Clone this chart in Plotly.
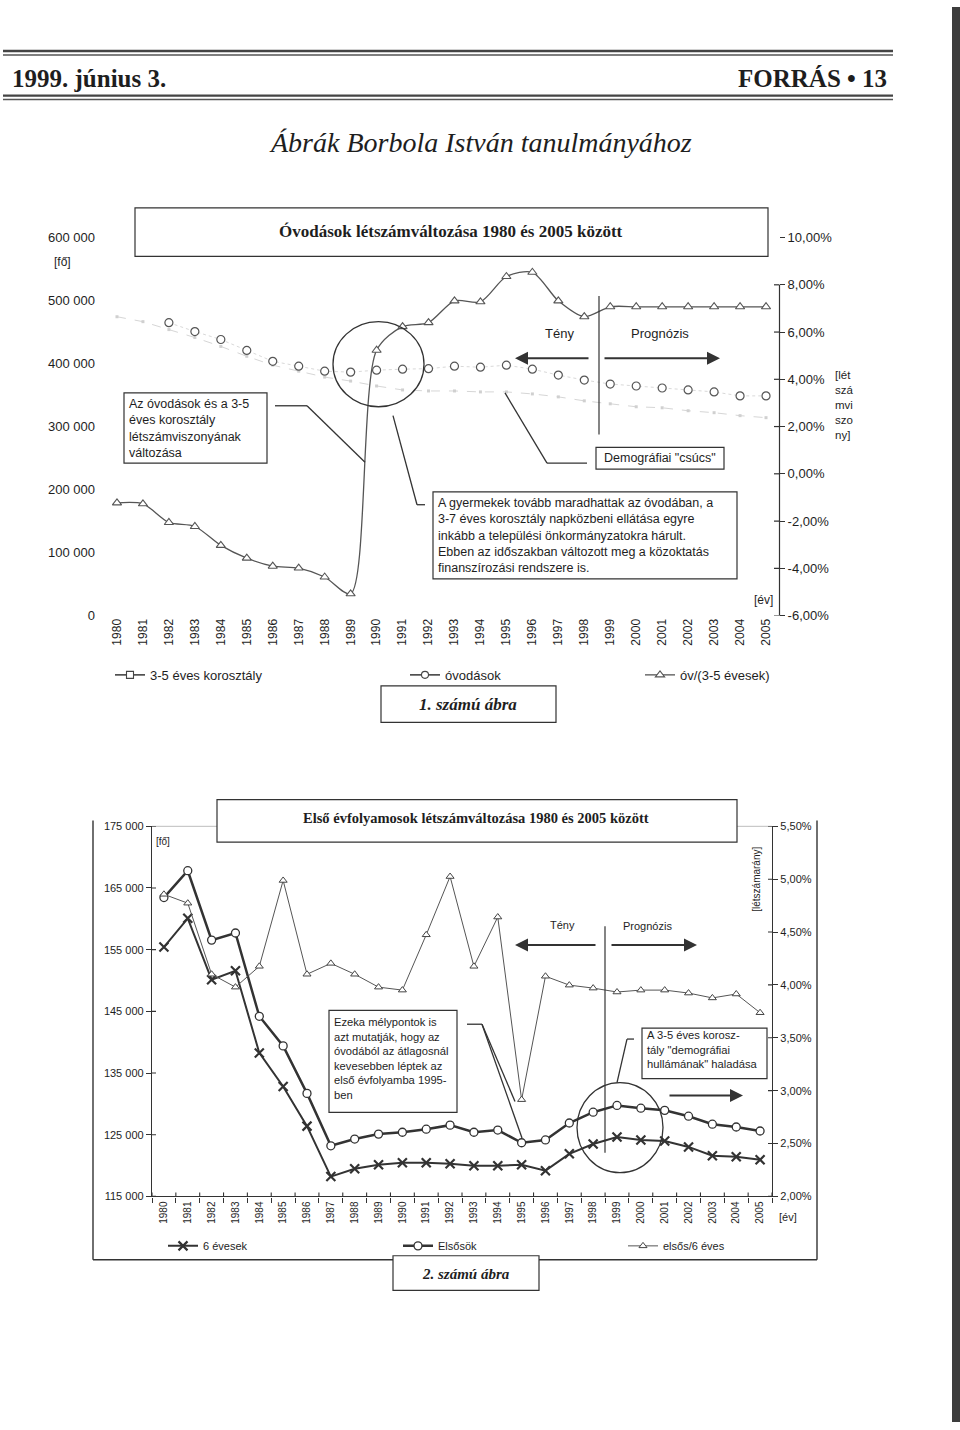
import plotly.graph_objects as go

# ---------------- DATA ----------------
years = [str(y) for y in range(1980, 2006)]

# Chart 1: Óvodások létszámváltozása
korosztaly_3_5 = [474300, 466500, 453900, 441300, 427200, 411500, 397400, 387900, 378500, 372200,
                  364400, 358100, 356500, 356500, 355000, 355000, 351800, 347100, 340800, 336100,
                  331400, 329800, 325100, 322000, 317300, 314100]
ovodasok = [None, None, 464900, 450800, 438200, 420900, 403600, 395800, 387900, 386400,
            389500, 391100, 391900, 395800, 394200, 397400, 391100, 381700, 373800, 367500,
            364400, 361200, 358100, 355000, 348700, 348700]
ov_per_3_5 = [-1.23, -1.27, -2.06, -2.23, -3.03, -3.57, -3.91, -3.99, -4.37, -5.08,
              5.23, 6.23, 6.40, 7.32, 7.28, 8.35, 8.53, 7.32, 6.65, 7.07,
              7.07, 7.07, 7.07, 7.07, 7.07, 7.07]
top_left_ticks = [0, 100000, 200000, 300000, 400000, 500000, 600000]
top_left_labels = ["0", "100 000", "200 000", "300 000", "400 000", "500 000", "600 000"]
top_right_ticks = [-6, -4, -2, 0, 2, 4, 6, 8, 10]
top_right_labels = ["-6,00%", "-4,00%", "-2,00%", "0,00%", "2,00%", "4,00%", "6,00%", "8,00%", "10,00%"]

# Chart 2: Első évfolyamosok létszámváltozása
hat_evesek = [155430, 160080, 150130, 151580, 138260, 132810, 126390, 118210, 119490, 120130,
              120450, 120450, 120290, 119970, 119970, 120130, 119170, 121900, 123500, 124630,
              124140, 123980, 123020, 121580, 121420, 120940]
elsosok = [163450, 167800, 156550, 157700, 144200, 139400, 131700, 123200, 124300, 125100,
           125400, 125900, 126550, 125400, 125750, 123700, 124150, 126900, 128650, 129750,
           129300, 128950, 128000, 126700, 126250, 125600]
elsos_per_6 = [4.857, 4.773, 4.101, 3.979, 4.176, 4.988, 4.101, 4.204, 4.101, 3.979,
               3.951, 4.474, 5.025, 4.176, 4.642, 2.915, 4.082, 3.998, 3.970, 3.933,
               3.951, 3.951, 3.923, 3.877, 3.914, 3.737]
bot_left_ticks = [115000, 125000, 135000, 145000, 155000, 165000, 175000]
bot_left_labels = ["115 000", "125 000", "135 000", "145 000", "155 000", "165 000", "175 000"]
bot_right_ticks = [2.0, 2.5, 3.0, 3.5, 4.0, 4.5, 5.0, 5.5]
bot_right_labels = ["2,00%", "2,50%", "3,00%", "3,50%", "4,00%", "4,50%", "5,00%", "5,50%"]

# ---------------- HELPERS ----------------
W, H = 960, 1430
def X(p): return p / W
def Y(p): return 1 - p / H

SANS = "Liberation Sans, Arial, sans-serif"
SERIF = "Liberation Serif, Times New Roman, serif"
INK = "#1e1e1e"

fig = go.Figure()

# ---- Chart 1 traces ----
fig.add_trace(go.Scatter(x=years, y=korosztaly_3_5, xaxis="x", yaxis="y", mode="lines+markers",
                         line=dict(color="#d6d6d6", width=1, dash="dash"),
                         marker=dict(symbol="square", size=3, color="#d0d0d0"),
                         showlegend=False, hoverinfo="skip"))
fig.add_trace(go.Scatter(x=years, y=ovodasok, xaxis="x", yaxis="y", mode="lines+markers",
                         line=dict(color="#d9d9d9", width=1, dash="dot"),
                         marker=dict(symbol="circle", size=8, color="white",
                                     line=dict(color="#555", width=1.2)),
                         showlegend=False, hoverinfo="skip"))
fig.add_trace(go.Scatter(x=years, y=ov_per_3_5, xaxis="x", yaxis="y2", mode="lines+markers",
                         name="óv/(3-5 évesek)", legend="legend3",
                         line=dict(color="#555", width=1.3, shape="spline", smoothing=0.8),
                         marker=dict(symbol="triangle-up", size=8, color="white",
                                     line=dict(color="#555", width=1.1))))
# legend entries for the faint series
fig.add_trace(go.Scatter(x=[None], y=[None], xaxis="x", yaxis="y", mode="lines+markers",
                         name="3-5 éves korosztály", legend="legend",
                         line=dict(color="#444", width=1.6),
                         marker=dict(symbol="square", size=7, color="white",
                                     line=dict(color="#444", width=1.1))))
fig.add_trace(go.Scatter(x=[None], y=[None], xaxis="x", yaxis="y", mode="lines+markers",
                         name="óvodások", legend="legend2",
                         line=dict(color="#444", width=1.6),
                         marker=dict(symbol="circle", size=7, color="white",
                                     line=dict(color="#444", width=1.1))))

# ---- Chart 2 traces ----
fig.add_trace(go.Scatter(x=years, y=hat_evesek, xaxis="x2", yaxis="y3", mode="lines+markers",
                         name="6 évesek", legend="legend4",
                         line=dict(color="#333", width=2),
                         marker=dict(symbol="x-thin", size=9, line=dict(color="#333", width=2.2))))
fig.add_trace(go.Scatter(x=years, y=elsosok, xaxis="x2", yaxis="y3", mode="lines+markers",
                         name="Elsősök", legend="legend5",
                         line=dict(color="#333", width=2.5),
                         marker=dict(symbol="circle", size=8, color="white",
                                     line=dict(color="#333", width=1.3))))
fig.add_trace(go.Scatter(x=years, y=elsos_per_6, xaxis="x2", yaxis="y4", mode="lines+markers",
                         name="elsős/6 éves", legend="legend6",
                         line=dict(color="#555", width=1),
                         marker=dict(symbol="triangle-up", size=7, color="white",
                                     line=dict(color="#444", width=1))))

# ---------------- SHAPES ----------------
shapes = []
def line(x0, y0, x1, y1, w=1.3, color="#333"):
    shapes.append(dict(type="line", xref="paper", yref="paper", x0=X(x0), y0=Y(y0), x1=X(x1), y1=Y(y1),
                       line=dict(color=color, width=w), layer="above"))

def rect(x0, y0, x1, y1, w=1.2):
    shapes.append(dict(type="rect", xref="paper", yref="paper", x0=X(x0), y0=Y(y0), x1=X(x1), y1=Y(y1),
                       line=dict(color="#333", width=w), fillcolor="white", layer="above"))

def ellipse(x0, y0, x1, y1):
    shapes.append(dict(type="circle", xref="paper", yref="paper", x0=X(x0), y0=Y(y0), x1=X(x1), y1=Y(y1),
                       line=dict(color="#333", width=1.3), layer="above"))

# page header rules
line(3, 44.5, 893, 44.5, w=2.4, color="#444")
line(3, 48.5, 893, 48.5, w=1.3, color="#555")
line(3, 89.5, 893, 89.5, w=2.2, color="#444")
line(3, 93.5, 893, 93.5, w=1.6, color="#555")
# scan edge
shapes.append(dict(type="rect", xref="paper", yref="paper", x0=X(952), x1=1, y0=0, y1=1,
                   line=dict(width=0), fillcolor="#3d3d3d", layer="above"))

# chart 1 decorations
line(779.5, 281, 779.5, 615, w=1.2)              # right axis line
for v in top_right_ticks:                         # inner half of crossing ticks
    if v <= 8:
        shapes.append(dict(type="line", xref="paper", yref="y2", x0=X(774), x1=X(779.5), y0=v, y1=v,
                           line=dict(color="#333", width=1.2), layer="above"))
line(599, 292, 599, 432, w=1.2)                  # Tény / Prognózis divider
line(275, 403, 307, 403); line(307, 403, 365, 460)
line(393, 413, 417, 503); line(417, 503, 425, 503)
line(505, 390, 547, 461); line(547, 461, 587, 461)
ellipse(333, 318, 424, 404)
rect(135, 203, 768, 252)
rect(124, 390, 267, 461)
rect(433, 490, 737, 578)
rect(596, 445, 724, 467)
rect(381, 686, 556, 723)

# chart 2 decorations
line(152, 828, 772, 828, w=1, color="#bdbdbd")   # faint top border
line(93, 822, 93, 1266, w=1.4); line(93, 1266, 817, 1266, w=1.4); line(817, 822, 817, 1266, w=1.4)
for v in bot_left_ticks:
    shapes.append(dict(type="line", xref="paper", yref="y3", x0=X(152), x1=X(156), y0=v, y1=v,
                       line=dict(color="#333", width=1.1), layer="above"))
for v in bot_right_ticks:
    shapes.append(dict(type="line", xref="paper", yref="y4", x0=X(768), x1=X(772), y0=v, y1=v,
                       line=dict(color="#333", width=1.1), layer="above"))
for i in range(len(years) + 1):
    shapes.append(dict(type="line", xref="x2", yref="paper", x0=i - 0.5, x1=i - 0.5, y0=Y(1202), y1=Y(1198),
                       line=dict(color="#333", width=1.1), layer="above"))
line(605, 929, 605, 1158, w=1.2)
line(467, 1028, 482, 1028); line(482, 1028, 515, 1106); line(482, 1028, 522, 1143)
line(634, 1043, 627, 1043); line(627, 1043, 617, 1087)
ellipse(577, 1087, 663, 1178)
rect(217, 801, 737, 844)
rect(329, 1014, 457, 1117)
rect(642, 1032, 767, 1083)
rect(393, 1262, 539, 1297)

# ---------------- ANNOTATIONS ----------------
ann = []
def txt(x, y, s, size=12.5, family=SANS, xa="center", ya="middle", align="left", color=INK, **kw):
    ann.append(dict(x=X(x), y=Y(y), xref="paper", yref="paper", text=s, showarrow=False,
                    xanchor=xa, yanchor=ya, align=align, font=dict(family=family, size=size, color=color), **kw))

def arrow(hx, hy, tx, ty):
    ann.append(dict(x=X(hx), y=Y(hy), xref="paper", yref="paper", text="", showarrow=True,
                    ax=tx - hx, ay=ty - hy, axref="pixel", ayref="pixel",
                    arrowhead=2, arrowsize=1.3, arrowwidth=2, arrowcolor="#333"))

txt(10, 72, "<b>1999. június 3.</b>", size=25, family=SERIF, xa="left")
txt(889, 72, "<b>FORRÁS • 13</b>", size=25, family=SERIF, xa="right")
txt(480, 137, "<i>Ábrák Borbola István tanulmányához</i>", size=28, family=SERIF)

txt(451, 227, "<b>Óvodások létszámváltozása 1980 és 2005 között</b>", size=17, family=SERIF)
txt(52, 258, "[fő]", size=12, xa="left")
txt(559, 330, "Tény", size=13)
txt(660, 330, "Prognózis", size=13)
txt(833, 402, "[lét<br>szá<br>mvi<br>szo<br>ny]", size=11.5, xa="left")
txt(127, 425.5, "Az óvodások és a 3-5<br>éves korosztály<br>létszámviszonyának<br>változása", size=12.5, xa="left")
txt(436, 534, "A gyermekek tovább maradhattak az óvodában, a<br>3-7 éves korosztály napközbeni ellátása egyre<br>"
    "inkább a települési önkormányzatokra hárult.<br>Ebben az időszakban változott meg a közoktatás<br>"
    "finanszírozási rendszere is.", size=12.5, xa="left")
txt(660, 456, "Demográfiai \"csúcs\"", size=12.5)
txt(763, 599, "[év]", size=12)
txt(468, 705, "<b><i>1. számú ábra</i></b>", size=17, family=SERIF)
arrow(515, 355, 590, 355)
arrow(720, 355, 603, 355)

txt(476, 820, "<b>Első évfolyamosok létszámváltozása 1980 és 2005 között</b>", size=14.5, family=SERIF)
txt(163, 843, "[fő]", size=10)
txt(757, 882, "[létszámarány]", size=10, textangle=-90)
txt(562, 928, "Tény", size=11)
txt(647, 929, "Prognózis", size=11)
txt(332, 1063, "Ezeka mélypontok is<br>azt mutatják, hogy az<br>óvodából az átlagosnál<br>kevesebben léptek az<br>"
    "első évfolyamba 1995-<br>ben", size=11.2, xa="left")
txt(645, 1054, "A 3-5 éves korosz-<br>tály \"demográfiai<br>hullámának\" haladása", size=11.2, xa="left")
txt(788, 1223, "[év]", size=11)
txt(466, 1280, "<b><i>2. számú ábra</i></b>", size=15, family=SERIF)
arrow(515, 948, 597, 948)
arrow(697, 948, 610, 948)
arrow(743, 1100, 668, 1100)

# ---------------- LAYOUT ----------------
def legend_at(x, y, size):
    return dict(x=X(x), y=Y(y), xanchor="left", yanchor="middle", orientation="h",
                bgcolor="rgba(0,0,0,0)", borderwidth=0, itemwidth=30,
                font=dict(family=SANS, size=size, color=INK))

fig.update_layout(
    width=W, height=H, autosize=False,
    margin=dict(l=0, r=0, t=0, b=0),
    paper_bgcolor="white", plot_bgcolor="rgba(0,0,0,0)",
    font=dict(family=SANS, color=INK),
    xaxis=dict(domain=[X(104), X(779)], anchor="y", type="category",
               categoryorder="array", categoryarray=years, range=[-0.5, 25.5],
               tickangle=-90, showline=False, showgrid=False, zeroline=False, ticks="",
               tickfont=dict(size=12, color=INK)),
    yaxis=dict(domain=[Y(615), Y(233)], anchor="x", range=[0, 600000],
               tickmode="array", tickvals=top_left_ticks, ticktext=top_left_labels,
               showgrid=False, zeroline=False, showline=False, ticks="",
               ticklabelstandoff=8, tickfont=dict(size=13, color=INK)),
    yaxis2=dict(overlaying="y", anchor="x", side="right", range=[-6, 10],
                tickmode="array", tickvals=top_right_ticks, ticktext=top_right_labels,
                showgrid=False, zeroline=False, showline=False,
                ticks="outside", ticklen=5, tickcolor="#333", tickwidth=1.2,
                tickfont=dict(size=13, color=INK)),
    xaxis2=dict(domain=[X(152), X(772)], anchor="y3", type="category",
                categoryorder="array", categoryarray=years, range=[-0.5, 25.5],
                tickangle=-90, showline=True, linecolor="#333", linewidth=1.3,
                showgrid=False, zeroline=False, ticks="outside", tickson="boundaries",
                ticklen=5, tickcolor="#333", tickfont=dict(size=10, color=INK)),
    yaxis3=dict(domain=[Y(1202), Y(828)], anchor="x2", range=[115000, 175000],
                tickmode="array", tickvals=bot_left_ticks, ticktext=bot_left_labels,
                showgrid=False, zeroline=False, showline=True, linecolor="#333", linewidth=1.3,
                ticks="outside", ticklen=5, tickcolor="#333", tickfont=dict(size=11, color=INK)),
    yaxis4=dict(overlaying="y3", anchor="x2", side="right", range=[2.0, 5.5],
                tickmode="array", tickvals=bot_right_ticks, ticktext=bot_right_labels,
                showgrid=False, zeroline=False, showline=True, linecolor="#333", linewidth=1.3,
                ticks="outside", ticklen=5, tickcolor="#333", tickfont=dict(size=11, color=INK)),
    legend=legend_at(110, 675, 13),
    legend2=legend_at(405, 675, 13),
    legend3=legend_at(640, 675, 13),
    legend4=legend_at(163, 1252, 11),
    legend5=legend_at(398, 1252, 11),
    legend6=legend_at(623, 1252, 11),
    shapes=shapes,
    annotations=ann,
)

fig.write_html("out.html")
